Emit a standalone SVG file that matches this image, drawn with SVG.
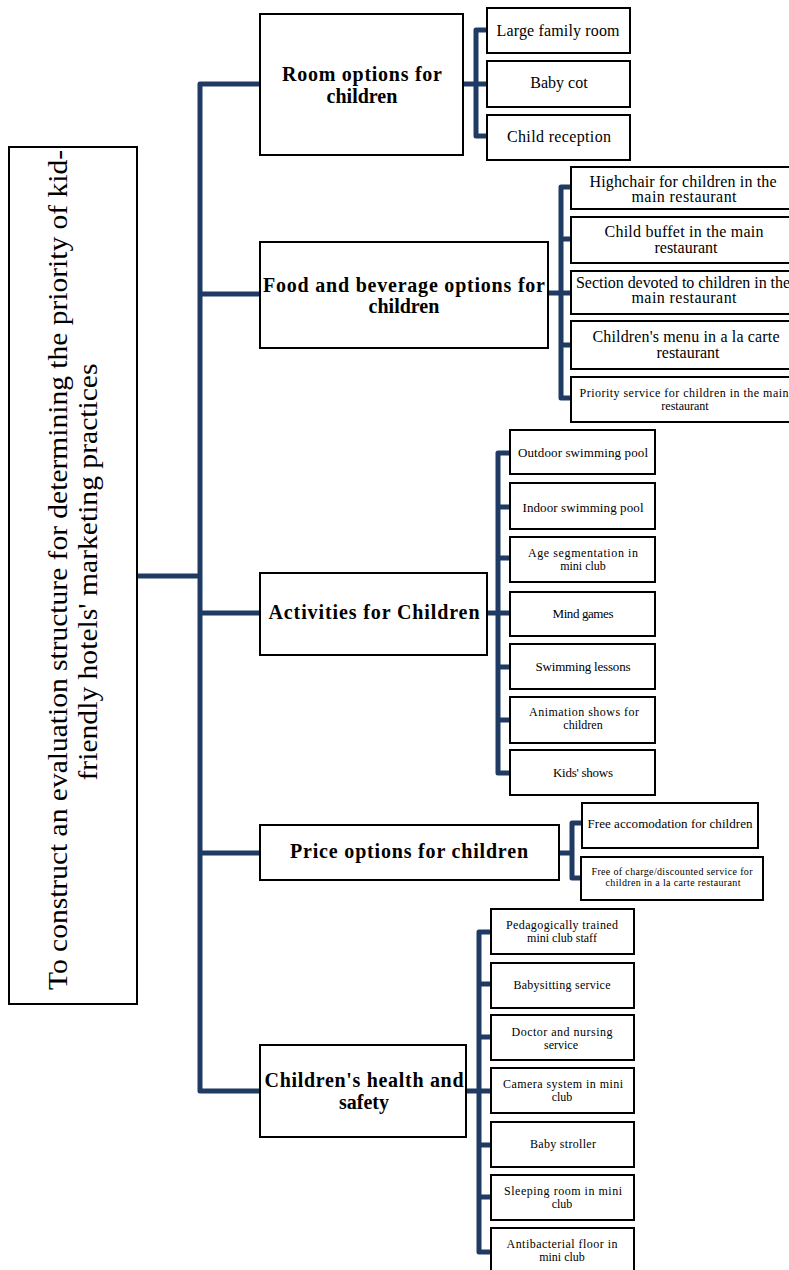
<svg xmlns="http://www.w3.org/2000/svg" width="789" height="1270" viewBox="0 0 789 1270">
<style>
.box{fill:#fff;stroke:#000;stroke-width:2}
.conn{fill:none;stroke:#1f3a63;stroke-width:5;stroke-linejoin:round}
text{font-family:"Liberation Serif","Times New Roman",serif;fill:#000;text-anchor:middle}
.root{font-size:27px}
.l1{font-size:20px;font-weight:bold}
.c16{font-size:16px}
.c13{font-size:13px}
.c12{font-size:12px}
.c10{font-size:10px}
</style>
<rect width="789" height="1270" fill="#fff"/>
<g id="connectors">
<path class="conn" d="M137 576 H200"/>
<path class="conn" d="M260 84 H200 V1091 H260"/>
<path class="conn" d="M200 294 H260 M200 613 H260 M200 853 H260"/>
<path class="conn" d="M487 30 H476 V136 H487 M463 84 H487"/>
<path class="conn" d="M571 187 H561 V398 H571 M548 293 H571 M561 239 H571 M561 345 H571"/>
<path class="conn" d="M510 453 H498 V773 H510 M487 613 H510 M498 507 H510 M498 558 H510 M498 667 H510 M498 720 H510"/>
<path class="conn" d="M582 823 H572 V878 H582 M559 853 H572"/>
<path class="conn" d="M491 932 H479 V1252 H491 M466 1091 H491 M479 984 H491 M479 1037 H491 M479 1145 H491 M479 1197 H491"/>
</g>
<g id="root">
<rect class="box" x="9" y="147" width="128" height="857"/>
<text class="root" transform="translate(67,990) rotate(-90)" style="text-anchor:start" textLength="840" lengthAdjust="spacingAndGlyphs">To construct an evaluation structure for determining the priority of kid-</text>
<text class="root" transform="translate(97,572) rotate(-90)" textLength="417" lengthAdjust="spacingAndGlyphs">friendly hotels' marketing practices</text>
</g>
<g id="room">
<rect class="box" x="260" y="14" width="203" height="141"/>
<text class="l1" x="362" y="81" textLength="160">Room options for</text>
<text class="l1" x="362" y="103">children</text>
</g>
<g id="food">
<rect class="box" x="260" y="242" width="288" height="106"/>
<text class="l1" x="404" y="292" textLength="282">Food and beverage options for</text>
<text class="l1" x="404" y="313">children</text>
</g>
<g id="activities">
<rect class="box" x="260" y="573" width="227" height="82"/>
<text class="l1" x="374" y="619" textLength="211">Activities for Children</text>
</g>
<g id="price">
<rect class="box" x="260" y="825" width="299" height="55"/>
<text class="l1" x="409" y="858" textLength="238">Price options for children</text>
</g>
<g id="health">
<rect class="box" x="260" y="1045" width="206" height="92"/>
<text class="l1" x="364" y="1087" textLength="199">Children's health and</text>
<text class="l1" x="364" y="1109">safety</text>
</g>
<g id="room-items">
<g id="large-family-room"><rect class="box" x="487" y="8" width="143" height="45"/><text class="c16" x="558" y="36" textLength="123">Large family room</text></g>
<g id="baby-cot"><rect class="box" x="487" y="61" width="143" height="46"/><text class="c16" x="559" y="88">Baby cot</text></g>
<g id="child-reception"><rect class="box" x="487" y="115" width="143" height="45"/><text class="c16" x="559" y="142" textLength="104">Child reception</text></g>
</g>
<g id="food-items">
<g id="highchair"><rect class="box" x="571" y="167" width="224" height="42"/><text class="c16" x="683" y="187" textLength="187">Highchair for children in the</text><text class="c16" x="684" y="202" textLength="105">main restaurant</text></g>
<g id="child-buffet"><rect class="box" x="571" y="217" width="224" height="46"/><text class="c16" x="684" y="237" textLength="159">Child buffet in the main</text><text class="c16" x="686" y="253">restaurant</text></g>
<g id="section"><rect class="box" x="571" y="271" width="224" height="43"/><text class="c16" x="683" y="288" textLength="214">Section devoted to children in the</text><text class="c16" x="684" y="303" textLength="105">main restaurant</text></g>
<g id="childrens-menu"><rect class="box" x="571" y="321" width="224" height="48"/><text class="c16" x="686" y="342" textLength="187">Children's menu in a la carte</text><text class="c16" x="688" y="358">restaurant</text></g>
<g id="priority-service"><rect class="box" x="571" y="377" width="224" height="45"/><text class="c12" x="684" y="397" textLength="209">Priority service  for children  in the main</text><text class="c12" x="685" y="410">restaurant</text></g>
</g>
<g id="activity-items">
<g id="outdoor-pool"><rect class="box" x="510" y="430" width="145" height="44"/><text class="c13" x="583" y="457" textLength="130">Outdoor swimming pool</text></g>
<g id="indoor-pool"><rect class="box" x="510" y="483" width="145" height="46"/><text class="c13" x="583" y="512" textLength="121">Indoor swimming pool</text></g>
<g id="age-segmentation"><rect class="box" x="510" y="537" width="145" height="45"/><text class="c12" x="583" y="557" textLength="110">Age segmentation  in</text><text class="c12" x="583" y="570">mini club</text></g>
<g id="mind-games"><rect class="box" x="510" y="592" width="145" height="44"/><text class="c13" x="583" y="618" textLength="61">Mind games</text></g>
<g id="swimming-lessons"><rect class="box" x="510" y="644" width="145" height="45"/><text class="c13" x="583" y="671" textLength="95">Swimming lessons</text></g>
<g id="animation-shows"><rect class="box" x="510" y="697" width="145" height="46"/><text class="c12" x="584" y="716" textLength="110">Animation shows for</text><text class="c12" x="583" y="729">children</text></g>
<g id="kids-shows"><rect class="box" x="510" y="750" width="145" height="45"/><text class="c13" x="583" y="777" textLength="60">Kids' shows</text></g>
</g>
<g id="price-items">
<g id="free-accommodation"><rect class="box" x="582" y="803" width="176" height="45"/><text class="c13" x="670" y="828" textLength="165">Free accomodation  for children</text></g>
<g id="free-of-charge"><rect class="box" x="581" y="857" width="182" height="43"/><text class="c10" x="672" y="875" textLength="161">Free of charge/discounted service for</text><text class="c10" x="673" y="886" textLength="135">children in a la carte restaurant</text></g>
</g>
<g id="health-items">
<g id="pedagogically-trained"><rect class="box" x="491" y="909" width="143" height="45"/><text class="c12" x="562" y="929" textLength="112">Pedagogically  trained</text><text class="c12" x="562" y="942">mini club staff</text></g>
<g id="babysitting"><rect class="box" x="491" y="963" width="143" height="45"/><text class="c12" x="562" y="989" textLength="97">Babysitting service</text></g>
<g id="doctor"><rect class="box" x="491" y="1015" width="143" height="45"/><text class="c12" x="562" y="1036" textLength="101">Doctor  and nursing</text><text class="c12" x="561" y="1049">service</text></g>
<g id="camera"><rect class="box" x="491" y="1068" width="143" height="45"/><text class="c12" x="563" y="1088" textLength="120">Camera system  in mini</text><text class="c12" x="562" y="1101">club</text></g>
<g id="baby-stroller"><rect class="box" x="491" y="1122" width="143" height="45"/><text class="c12" x="563" y="1148" textLength="66">Baby stroller</text></g>
<g id="sleeping-room"><rect class="box" x="491" y="1175" width="143" height="45"/><text class="c12" x="563" y="1195" textLength="118">Sleeping room  in mini</text><text class="c12" x="562" y="1208">club</text></g>
<g id="antibacterial"><rect class="box" x="491" y="1228" width="143" height="50"/><text class="c12" x="562" y="1248" textLength="111">Antibacterial  floor  in</text><text class="c12" x="562" y="1261">mini club</text></g>
</g>
</svg>
